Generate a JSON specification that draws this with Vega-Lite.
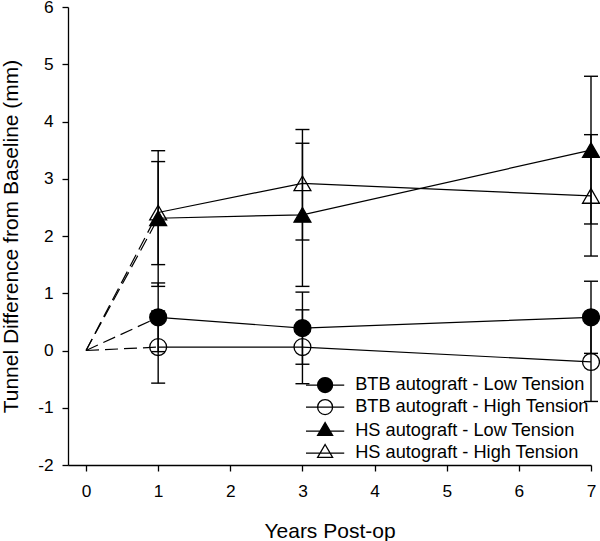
{
  "$schema": "https://vega.github.io/schema/vega-lite/v6.json",
  "width": 523,
  "height": 458,
  "autosize": {"type": "none"},
  "padding": {"left": 68, "top": 7, "right": 9, "bottom": 76},
  "config": {
    "view": {"stroke": null},
    "font": "Liberation Sans",
    "axis": {
      "grid": false,
      "domainColor": "black",
      "domainWidth": 1.3,
      "tickColor": "black",
      "tickWidth": 1.3,
      "tickSize": 6,
      "labelColor": "black",
      "labelFontSize": 17.3,
      "labelFont": "Liberation Sans",
      "titleColor": "black",
      "titleFontSize": 21,
      "titleFont": "Liberation Sans",
      "titleFontWeight": "normal",
      "labelFlush": false,
      "labelOverlap": false,
      "labelExpr": "'' + datum.value"
    },
    "axisX": {"labelPadding": 11, "titlePadding": 21},
    "axisY": {"labelPadding": 9, "titlePadding": 16}
  },
  "data": {
    "values": [
      {"series": "BTB autograft - Low Tension", "year": 0, "mean": 0, "lo": null, "hi": null},
      {"series": "BTB autograft - Low Tension", "year": 1, "mean": 0.58, "lo": -0.02, "hi": 1.18},
      {"series": "BTB autograft - Low Tension", "year": 3, "mean": 0.39, "lo": -0.24, "hi": 1.02},
      {"series": "BTB autograft - Low Tension", "year": 7, "mean": 0.58, "lo": -0.05, "hi": 1.21},
      {"series": "BTB autograft - High Tension", "year": 0, "mean": 0, "lo": null, "hi": null},
      {"series": "BTB autograft - High Tension", "year": 1, "mean": 0.06, "lo": -0.57, "hi": 0.69},
      {"series": "BTB autograft - High Tension", "year": 3, "mean": 0.06, "lo": -0.58, "hi": 0.71},
      {"series": "BTB autograft - High Tension", "year": 7, "mean": -0.2, "lo": -0.89, "hi": 0.49},
      {"series": "HS autograft - Low Tension", "year": 0, "mean": 0, "lo": null, "hi": null},
      {"series": "HS autograft - Low Tension", "year": 1, "mean": 2.31, "lo": 1.12, "hi": 3.49},
      {"series": "HS autograft - Low Tension", "year": 3, "mean": 2.37, "lo": 1.12, "hi": 3.62},
      {"series": "HS autograft - Low Tension", "year": 7, "mean": 3.5, "lo": 2.21, "hi": 4.79},
      {"series": "HS autograft - High Tension", "year": 0, "mean": 0, "lo": null, "hi": null},
      {"series": "HS autograft - High Tension", "year": 1, "mean": 2.41, "lo": 1.5, "hi": 3.3},
      {"series": "HS autograft - High Tension", "year": 3, "mean": 2.92, "lo": 1.93, "hi": 3.86},
      {"series": "HS autograft - High Tension", "year": 7, "mean": 2.7, "lo": 1.65, "hi": 3.77}
    ]
  },
  "layer": [
    {
      "transform": [{"filter": "datum.year <= 1"}],
      "mark": {"type": "line", "color": "black", "strokeWidth": 1.2, "strokeDash": [13, 6]},
      "encoding": {
        "x": {"field": "year", "type": "quantitative", "scale": {"domain": [-0.25, 7], "nice": false, "zero": false}, "axis": {"values": [0, 1, 2, 3, 4, 5, 6, 7], "title": "Years Post-op"}},
        "y": {"field": "mean", "type": "quantitative", "scale": {"domain": [-2, 6], "nice": false, "zero": false}, "axis": {"values": [-2, -1, 0, 1, 2, 3, 4, 5, 6], "title": "Tunnel Difference from Baseline (mm)"}},
        "detail": {"field": "series", "type": "nominal"}
      }
    },
    {
      "transform": [{"filter": "datum.year >= 1"}],
      "mark": {"type": "line", "color": "black", "strokeWidth": 1.2},
      "encoding": {
        "x": {"field": "year", "type": "quantitative", "title": "Years Post-op"},
        "y": {"field": "mean", "type": "quantitative", "title": "Tunnel Difference from Baseline (mm)"},
        "detail": {"field": "series", "type": "nominal"}
      }
    },
    {
      "transform": [{"filter": "datum.year > 0"}],
      "mark": {"type": "rule", "color": "black", "strokeWidth": 1.4},
      "encoding": {
        "x": {"field": "year", "type": "quantitative", "title": "Years Post-op"},
        "y": {"field": "lo", "type": "quantitative", "title": "Tunnel Difference from Baseline (mm)"},
        "y2": {"field": "hi"}
      }
    },
    {
      "transform": [{"filter": "datum.year > 0"}],
      "mark": {"type": "tick", "orient": "horizontal", "size": 14, "thickness": 1.4, "color": "black", "opacity": 1},
      "encoding": {
        "x": {"field": "year", "type": "quantitative", "title": "Years Post-op"},
        "y": {"field": "hi", "type": "quantitative", "title": "Tunnel Difference from Baseline (mm)"}
      }
    },
    {
      "transform": [{"filter": "datum.year > 0"}],
      "mark": {"type": "tick", "orient": "horizontal", "size": 14, "thickness": 1.4, "color": "black", "opacity": 1},
      "encoding": {
        "x": {"field": "year", "type": "quantitative", "title": "Years Post-op"},
        "y": {"field": "lo", "type": "quantitative", "title": "Tunnel Difference from Baseline (mm)"}
      }
    },
    {
      "transform": [{"filter": "datum.year > 0"}],
      "mark": {"type": "point", "filled": true, "opacity": 1, "stroke": "black", "strokeWidth": 1.3, "size": 285},
      "encoding": {
        "x": {"field": "year", "type": "quantitative", "title": "Years Post-op"},
        "y": {"field": "mean", "type": "quantitative", "title": "Tunnel Difference from Baseline (mm)"},
        "shape": {
          "field": "series", "type": "nominal",
          "scale": {"domain": ["BTB autograft - Low Tension", "BTB autograft - High Tension", "HS autograft - Low Tension", "HS autograft - High Tension"], "range": ["circle", "circle", "triangle-up", "triangle-up"]},
          "legend": null
        },
        "fill": {
          "field": "series", "type": "nominal",
          "scale": {"domain": ["BTB autograft - Low Tension", "BTB autograft - High Tension", "HS autograft - Low Tension", "HS autograft - High Tension"], "range": ["black", "transparent", "black", "transparent"]},
          "legend": null
        }
      }
    },
    {
      "transform": [{"filter": "false"}],
      "mark": {"type": "point", "filled": true, "opacity": 1, "strokeWidth": 1.3, "size": 225},
      "encoding": {
        "stroke": {"value": "black"},
        "shape": {
          "field": "series", "type": "nominal",
          "scale": {"domain": ["BTB autograft - Low Tension", "BTB autograft - High Tension", "HS autograft - Low Tension", "HS autograft - High Tension"], "range": ["M-2.55,0L2.55,0M1,0A1,1,0,1,1,-1,0A1,1,0,1,1,1,0Z", "M-2.55,0L2.55,0M1,0A1,1,0,1,1,-1,0A1,1,0,1,1,1,0Z", "M-2.55,0L2.55,0M0,-1.15L1,0.58L-1,0.58Z", "M-2.55,0L2.55,0M0,-1.15L1,0.58L-1,0.58Z"]},
          "legend": {"title": null, "orient": "none", "legendX": 248, "legendY": 369, "symbolSize": 225, "labelFontSize": 18.2, "labelColor": "black", "labelFont": "Liberation Sans", "labelOffset": 21, "rowPadding": 1, "symbolStrokeWidth": 1.3, "padding": 0, "labelLimit": 400}
        },
        "fill": {
          "field": "series", "type": "nominal",
          "scale": {"domain": ["BTB autograft - Low Tension", "BTB autograft - High Tension", "HS autograft - Low Tension", "HS autograft - High Tension"], "range": ["black", "transparent", "black", "transparent"]},
          "legend": {"title": null, "orient": "none", "legendX": 248, "legendY": 369, "symbolSize": 225, "labelFontSize": 18.2, "labelColor": "black", "labelFont": "Liberation Sans", "labelOffset": 21, "rowPadding": 1, "symbolStrokeWidth": 1.3, "padding": 0, "labelLimit": 400}
        }
      }
    }
  ],
  "resolve": {"scale": {"shape": "independent", "fill": "independent"}}
}
